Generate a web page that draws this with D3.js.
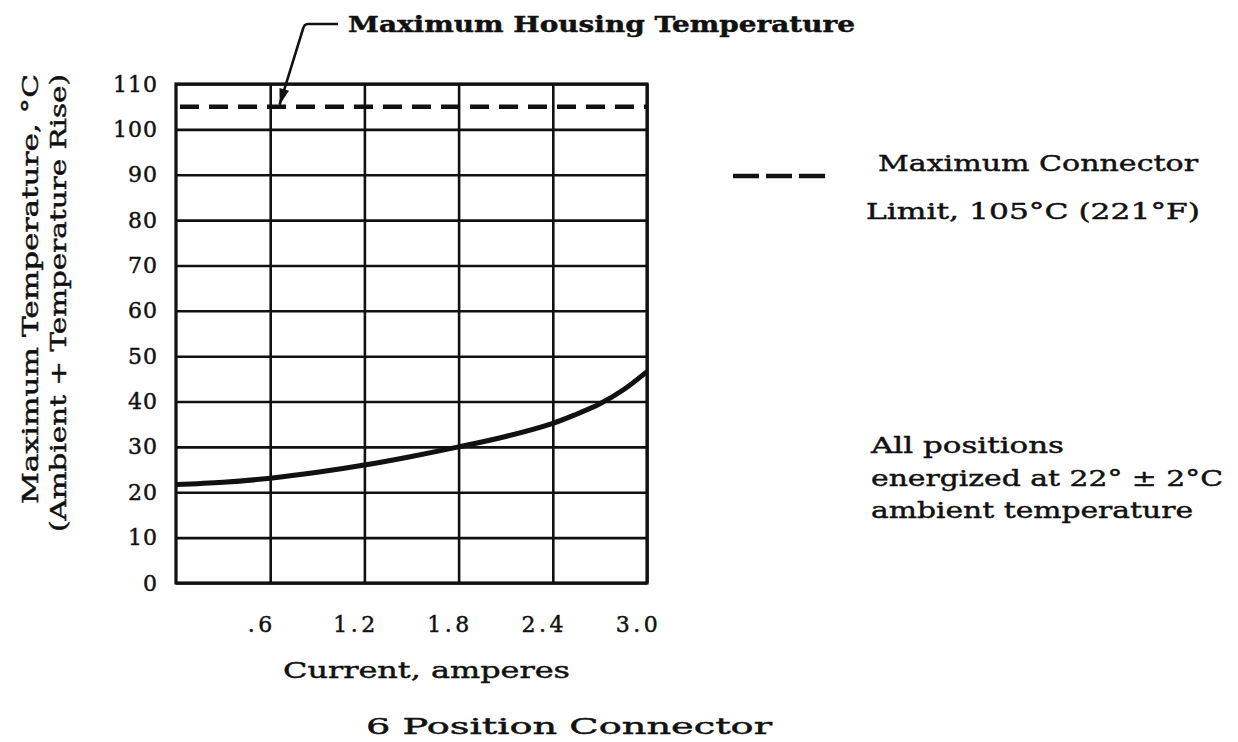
<!DOCTYPE html>
<html>
<head>
<meta charset="utf-8">
<script src="https://cdn.jsdelivr.net/npm/d3@7"></script>
<style>
  html, body { margin: 0; padding: 0; background: #fff; }
  svg { display: block; }
  text { font-family: "DejaVu Serif", serif; fill: #111; stroke: #111; stroke-width: 0.45px; }
</style>
</head>
<body>
<svg id="chart" width="1238" height="742"></svg>
<script>
// ---- data ----
const currentAmps = [0, 0.3, 0.6, 0.9, 1.2, 1.5, 1.8, 2.1, 2.4, 2.55, 2.7, 2.85, 3.0];
const maxTempC   = [21.7, 22.2, 23.1, 24.4, 26.0, 27.9, 30.0, 32.3, 35.2, 37.2, 39.5, 42.6, 46.6];
const connectorLimitC = 105;
const yTickValues = [0, 10, 20, 30, 40, 50, 60, 70, 80, 90, 100, 110];
const xTickValues = [0.6, 1.2, 1.8, 2.4, 3.0];
const xTickLabels = [".6", "1.2", "1.8", "2.4", "3.0"];
const housingArrowPoint = [0.66, 105];

// ---- layout ----
const svg = d3.select("#chart");
const plot = { left: 176, right: 647, top: 84, bottom: 583 };
const x = d3.scaleLinear().domain([0, 3.0]).range([plot.left, plot.right]);
const y = d3.scaleLinear().domain([0, 110]).range([plot.bottom, plot.top]);

// horizontal grid + y labels
const yAxis = d3.axisLeft(y)
  .tickValues(yTickValues)
  .tickSize(-(plot.right - plot.left))
  .tickPadding(18)
  .tickFormat(d => String(d));
const gy = svg.append("g").attr("transform", `translate(${plot.left},0)`).call(yAxis);
gy.select(".domain").remove();
gy.selectAll(".tick line").attr("stroke", "#111").attr("stroke-width", 2.6);
gy.selectAll(".tick text")
  .attr("font-size", 22)
  .attr("font-family", "DejaVu Serif")
  .attr("letter-spacing", 1)
  .attr("fill", "#111");

// vertical grid + x labels
const xAxis = d3.axisBottom(x)
  .tickValues(xTickValues)
  .tickSize(-(plot.bottom - plot.top))
  .tickPadding(33)
  .tickFormat((d, i) => xTickLabels[i]);
const gx = svg.append("g").attr("transform", `translate(0,${plot.bottom})`).call(xAxis);
gx.select(".domain").remove();
gx.selectAll(".tick line").attr("stroke", "#111").attr("stroke-width", 2.6);
gx.selectAll(".tick text")
  .attr("font-size", 22)
  .attr("font-family", "DejaVu Serif")
  .attr("letter-spacing", 3.5)
  .attr("dx", -9)
  .attr("fill", "#111");

// frame
svg.append("rect")
  .attr("x", x(0)).attr("y", y(110))
  .attr("width", x(3.0) - x(0)).attr("height", y(0) - y(110))
  .attr("fill", "none").attr("stroke", "#111").attr("stroke-width", 3.2);

// connector limit dashed line
svg.append("line")
  .attr("x1", x(0) + 4).attr("x2", x(3.0))
  .attr("y1", y(connectorLimitC)).attr("y2", y(connectorLimitC))
  .attr("stroke", "#111").attr("stroke-width", 4.5)
  .attr("stroke-dasharray", "19,10");

// temperature curve
const line = d3.line()
  .x((d, i) => x(currentAmps[i]))
  .y(d => y(d))
  .curve(d3.curveCatmullRom.alpha(0.5));
svg.append("path")
  .datum(maxTempC)
  .attr("d", line)
  .attr("fill", "none")
  .attr("stroke", "#111")
  .attr("stroke-width", 5);

// housing temperature callout
const tipX = x(housingArrowPoint[0]), tipY = y(housingArrowPoint[1]) - 2;
const cornerX = 304, cornerY = 24;
svg.append("path")
  .attr("d", `M338,${cornerY} L${cornerX + 4},${cornerY} Q${cornerX},${cornerY} ${cornerX - 1},${cornerY + 5} L${tipX},${tipY}`)
  .attr("fill", "none").attr("stroke", "#111").attr("stroke-width", 2.6);
const ang = Math.atan2(tipY - cornerY, tipX - cornerX);
const ah = 16, aw = 5;
const bx = tipX - ah * Math.cos(ang), by = tipY - ah * Math.sin(ang);
const px = -Math.sin(ang) * aw, py = Math.cos(ang) * aw;
svg.append("path")
  .attr("d", `M${tipX},${tipY} L${bx + px},${by + py} L${bx - px},${by - py} Z`)
  .attr("fill", "#111");

svg.append("text")
  .attr("x", 348).attr("y", 32)
  .attr("font-size", 23).attr("font-weight", "bold")
  .attr("textLength", 507).attr("lengthAdjust", "spacingAndGlyphs")
  .text("Maximum Housing Temperature");

// y axis title (two lines, rotated)
svg.append("text")
  .attr("transform", "translate(38,504) rotate(-90)")
  .attr("font-size", 22)
  .attr("textLength", 430).attr("lengthAdjust", "spacingAndGlyphs")
  .text("Maximum Temperature, °C");
svg.append("text")
  .attr("transform", "translate(66,532) rotate(-90)")
  .attr("font-size", 22)
  .attr("textLength", 458).attr("lengthAdjust", "spacingAndGlyphs")
  .text("(Ambient + Temperature Rise)");

// x axis title and caption
svg.append("text")
  .attr("x", 283).attr("y", 678)
  .attr("font-size", 23)
  .attr("textLength", 287).attr("lengthAdjust", "spacingAndGlyphs")
  .text("Current, amperes");
svg.append("text")
  .attr("x", 366).attr("y", 734)
  .attr("font-size", 23)
  .attr("textLength", 406).attr("lengthAdjust", "spacingAndGlyphs")
  .text("6 Position Connector");

// legend
svg.append("line")
  .attr("x1", 733).attr("x2", 826).attr("y1", 176).attr("y2", 176)
  .attr("stroke", "#111").attr("stroke-width", 4.5)
  .attr("stroke-dasharray", "26,7");
svg.append("text")
  .attr("x", 878).attr("y", 171)
  .attr("font-size", 23)
  .attr("textLength", 320).attr("lengthAdjust", "spacingAndGlyphs")
  .text("Maximum Connector");
svg.append("text")
  .attr("x", 866).attr("y", 219)
  .attr("font-size", 23)
  .attr("textLength", 334).attr("lengthAdjust", "spacingAndGlyphs")
  .text("Limit, 105°C (221°F)");

// note
const noteLines = ["All positions", "energized at 22° ± 2°C", "ambient temperature"];
const noteWidths = [193, 352, 322];
const noteBase = [453, 486, 518];
noteLines.forEach((t, i) => {
  svg.append("text")
    .attr("x", 871).attr("y", noteBase[i])
    .attr("font-size", 23)
    .attr("textLength", noteWidths[i]).attr("lengthAdjust", "spacingAndGlyphs")
    .text(t);
});
</script>
</body>
</html>
